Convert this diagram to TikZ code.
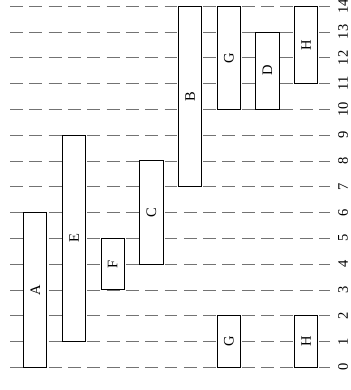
\documentclass[tikz,border=0pt]{standalone}
\usepackage{fontspec}
\setmainfont{Liberation Serif}

\begin{document}
\begin{tikzpicture}[x=1cm, y=1cm, font=\fontsize{16}{18}\selectfont,
    level/.style={black!55, line width=0.8pt, dash pattern=on 14.3pt off 7pt},
    interval/.style={draw, fill=white, line width=1pt, minimum width=0.9cm, inner sep=0pt}]
    \useasboundingbox (0,-0.88) rectangle (13.57,14.24);
    \foreach \y in {0,...,14} {
        \draw[level] (0.39,\y) -- (12.79,\y);
        \node[rotate=90] (t\y) at (13.3,\y) {\y};
    }
    \foreach \name/\lbl/\col/\lo/\hi in {A/A/0/0/6, E/E/1/1/9, F/F/2/3/5, C/C/3/4/8,
        B/B/4/7/14, G1/G/5/10/14, D/D/6/10/13, H1/H/7/11/14, G2/G/5/0/2, H2/H/7/0/2}
        \node[interval, minimum height={(\hi-\lo)*1cm}] (\name) at ({1.37+1.5*\col},{(\lo+\hi)/2}) {\rotatebox{90}{\lbl}};
\end{tikzpicture}
\end{document}
